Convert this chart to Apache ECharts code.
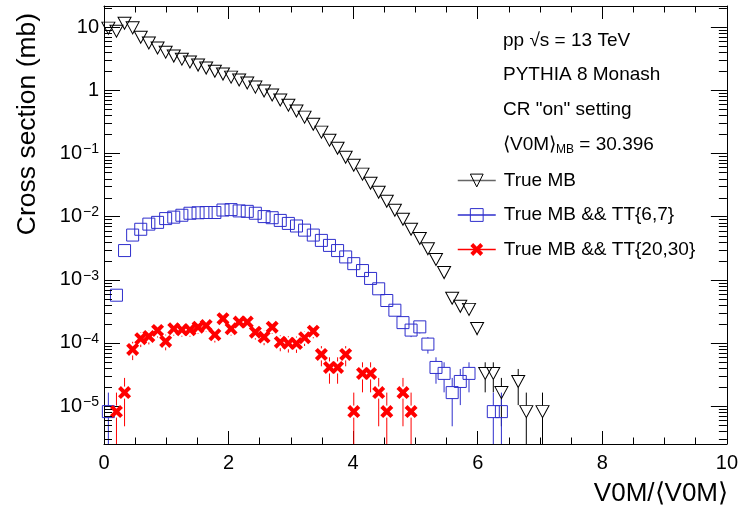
<!DOCTYPE html>
<html>
<head>
<meta charset="utf-8">
<script src="https://cdn.jsdelivr.net/npm/echarts@6/dist/echarts.min.js"></script>
<style>
  html, body { margin: 0; padding: 0; background: #fff; }
  #chart { width: 741px; height: 510px; }
</style>
</head>
<body>
<div id="chart"></div>
<script>
// bin centres in V0M/<V0M>
const binCenters = [0.07, 0.20, 0.33, 0.46, 0.59, 0.72, 0.86, 0.99, 1.12, 1.25,
  1.38, 1.51, 1.64, 1.78, 1.91, 2.04, 2.17, 2.30, 2.43, 2.57,
  2.70, 2.83, 2.96, 3.09, 3.22, 3.36, 3.49, 3.62, 3.75, 3.88,
  4.01, 4.15, 4.28, 4.41, 4.54, 4.67, 4.80, 4.93, 5.07, 5.20,
  5.33, 5.46, 5.59, 5.72, 5.86, 5.99, 6.12, 6.25, 6.38, 6.51,
  6.65, 6.78, 6.91, 7.04];

const trueMB = [9.6, 8.6, 11.5, 9.7, 6.9, 5.6, 4.65, 4.0, 3.47, 3.1,
  2.8, 2.5, 2.24, 2.0, 1.8, 1.61, 1.45, 1.3, 1.12, 0.97,
  0.84, 0.70, 0.58, 0.47, 0.375, 0.29, 0.217, 0.162, 0.121, 0.087,
  0.065, 0.047, 0.0337, 0.0243, 0.0175, 0.0126, 0.0091, 0.0063, 0.0045, 0.0031,
  0.0021, 0.0013, 5.1e-4, 3.8e-4, 3.4e-4, 1.7e-4, 3.3e-5, 3.3e-5, 1.64e-5, null,
  2.46e-5, 8.2e-6, null, 8.2e-6];

const trueMBTT67 = [8.2e-6, 5.7e-4, 2.9e-3, 5.1e-3, 6.3e-3, 7.6e-3, 8.1e-3, 9.3e-3, 9.8e-3, 0.0105,
  0.0113, 0.0115, 0.0116, 0.0116, 0.0127, 0.0129, 0.0123, 0.0121, 0.0113, 0.0100,
  0.0096, 0.0087, 0.0078, 0.0071, 0.0061, 0.0051, 0.0042, 0.0035, 0.0029, 0.0023,
  0.0018, 0.0014, 0.00105, 7.2e-4, 4.7e-4, 3.3e-4, 2.1e-4, 1.6e-4, 1.8e-4, 9.6e-5,
  4.1e-5, 3.3e-5, 1.64e-5, 2.46e-5, 3.3e-5, null, null, 8.2e-6, 8.2e-6, null,
  null, null, null, null];

const trueMBTT2030 = [null, 8.2e-6, 1.64e-5, 7.9e-5, 1.17e-4, 1.27e-4, 1.58e-4, 1.06e-4, 1.68e-4, 1.62e-4,
  1.62e-4, 1.78e-4, 1.89e-4, 1.35e-4, 2.42e-4, 1.68e-4, 2.14e-4, 2.14e-4, 1.48e-4, 1.24e-4,
  1.78e-4, 1.03e-4, 9.9e-5, 9.8e-5, 1.21e-4, 1.54e-4, 6.6e-5, 4.1e-5, 4.1e-5, 6.6e-5,
  8.2e-6, 3.3e-5, 3.3e-5, 1.64e-5, 8.2e-6, null, 1.64e-5, 8.2e-6, null, null,
  null, null, null, null, null, null, null, null, null, null,
  null, null, null, null];

// cross section carried by one generated event (sets the sqrt(N) error bars)
const eventWeight = 8.2e-6;

const seriesNames = ["True MB", "True MB && TT{6,7}", "True MB && TT{20,30}"];
const infoLines = ["pp \u221As = 13 TeV", "PYTHIA 8 Monash", 'CR "on" setting'];

const Y_MIN = 2.52e-6;
const Y_MAX = 21.5;
const FONT = "'Liberation Sans', Arial, Helvetica, sans-serif";
const BLUE = "#2e2ecc";
const RED = "#ff0000";
const CROSS = "path://M0,2.2L2.2,0L5,2.8L7.8,0L10,2.2L7.2,5L10,7.8L7.8,10L5,7.2L2.2,10L0,7.8L2.8,5Z";

function pairs(values) {
  return binCenters
    .map((x, i) => [x, values[i]])
    .filter((p) => p[1] != null);
}

function errorData(values) {
  return pairs(values).map(([x, y]) => {
    const err = Math.sqrt(y * eventWeight);
    return [x, y, y - err, y + err];
  });
}

function seg(x, y1, y2, color) {
  return {
    type: "line",
    shape: { x1: x, y1: y1, x2: x, y2: y2 },
    style: { stroke: color, lineWidth: 1 },
  };
}

function renderErrorBar(color, gap) {
  return function (params, api) {
    const x = api.value(0);
    const lo = api.value(2);
    const mid = api.coord([x, api.value(1)]);
    const top = api.coord([x, Math.min(api.value(3), Y_MAX)]);
    const bottom = api.coord([x, lo > Y_MIN ? lo : Y_MIN]);
    const children = [];
    if (mid[1] - top[1] > gap) children.push(seg(mid[0], top[1], mid[1] - gap, color));
    if (bottom[1] - mid[1] > gap) children.push(seg(mid[0], mid[1] + gap, bottom[1], color));
    return { type: "group", children };
  };
}

// 2..9 x 10^n minor ticks for the log axis
const yMinorTicks = [];
for (let e = -6; e <= 1; e++) {
  for (let k = 2; k <= 9; k++) {
    const v = k * Math.pow(10, e);
    if (v > Y_MIN && v < Y_MAX) yMinorTicks.push([0, v]);
  }
}

function renderMinorTick(params, api) {
  const p = api.coord([0, api.value(1)]);
  const cs = params.coordSys;
  const y = Math.round(p[1]) + 0.5;
  const style = { stroke: "#000", lineWidth: 1 };
  return {
    type: "group",
    children: [
      { type: "line", shape: { x1: cs.x, y1: y, x2: cs.x + 8, y2: y }, style },
      { type: "line", shape: { x1: cs.x + cs.width - 8, y1: y, x2: cs.x + cs.width, y2: y }, style },
    ],
  };
}

function yLabel(v) {
  const e = Math.log10(v);
  const n = Math.round(e);
  if (Math.abs(e - n) > 1e-6) return "";
  if (n === 0) return "1";
  if (n === 1) return "10";
  return "10{sup|" + (n < 0 ? "\u2212" + -n : n) + "}";
}

function xAxisDef(position) {
  return {
    type: "value",
    position: position,
    min: 0,
    max: 10,
    interval: 2,
    axisLine: { show: true, onZero: false, lineStyle: { color: "#000", width: 1 } },
    axisTick: { show: true, inside: true, length: 13, lineStyle: { color: "#000" } },
    minorTick: { show: true, splitNumber: 4, length: 6.5, lineStyle: { color: "#000" } },
    splitLine: { show: false },
    axisLabel: {
      show: position === "bottom",
      fontFamily: FONT,
      fontSize: 20,
      color: "#000",
      margin: 9,
    },
  };
}

function yAxisDef(position) {
  return {
    type: "log",
    logBase: 10,
    position: position,
    min: Y_MIN,
    max: Y_MAX,
    splitNumber: 7,
    axisLine: { show: true, onZero: false, lineStyle: { color: "#000", width: 1 } },
    axisTick: { show: true, inside: true, length: 16, lineStyle: { color: "#000" } },
    splitLine: { show: false },
    axisLabel: {
      show: position === "left",
      showMinLabel: false,
      showMaxLabel: false,
      formatter: yLabel,
      fontFamily: FONT,
      fontSize: 20,
      color: "#000",
      margin: 5,
      rich: {
        sup: { fontFamily: FONT, fontSize: 14, verticalAlign: "top", padding: [0, 0, 8, 1], color: "#000" },
      },
    },
  };
}

const chart = echarts.init(document.getElementById("chart"), null, { renderer: "canvas" });

chart.setOption({
  animation: false,
  backgroundColor: "#fff",
  grid: { left: 104, right: 12, top: 6, bottom: 66, containLabel: false },
  xAxis: [xAxisDef("bottom"), xAxisDef("top")],
  yAxis: [yAxisDef("left"), yAxisDef("right")],
  legend: {
    orient: "vertical",
    left: 457,
    top: 169,
    padding: 0,
    itemWidth: 38,
    itemHeight: 16,
    itemGap: 11.5,
    selectedMode: false,
    data: seriesNames,
    itemStyle: { borderWidth: 1 },
    lineStyle: { opacity: 1, width: 1.5 },
    textStyle: { fontFamily: FONT, fontSize: 19, color: "#000", lineHeight: 23, padding: [0, 0, 0, 3] },
  },
  graphic: [
    ...infoLines.map((t, i) => ({
      type: "text",
      left: 503,
      top: 31 + i * 34.5,
      style: { text: t, fontFamily: FONT, fontSize: 19, fill: "#000" },
    })),
    {
      type: "text",
      left: 503,
      top: 135,
      style: {
        text: "\u27E8V0M\u27E9{sub|MB} = 30.396",
        fontFamily: FONT,
        fontSize: 19,
        fill: "#000",
        rich: { sub: { fontFamily: FONT, fontSize: 12, verticalAlign: "bottom", padding: [10, 0, 0, 0] } },
      },
    },
    {
      type: "text",
      x: 28,
      y: 124,
      rotation: Math.PI / 2,
      style: {
        text: "Cross section (mb)",
        fontFamily: FONT,
        fontSize: 26.5,
        fill: "#000",
        textAlign: "center",
        textVerticalAlign: "middle",
      },
    },
    {
      type: "text",
      x: 728,
      y: 494,
      style: {
        text: "V0M/\u27E8V0M\u27E9",
        fontFamily: FONT,
        fontSize: 26,
        fill: "#000",
        textAlign: "right",
        textVerticalAlign: "middle",
      },
    },
  ],
  series: [
    {
      name: "minorTicks",
      type: "custom",
      silent: true,
      renderItem: renderMinorTick,
      encode: { x: 0, y: 1 },
      data: yMinorTicks,
      z: 5,
    },
    {
      name: "errMB",
      type: "custom",
      silent: true,
      renderItem: renderErrorBar("#000", 6),
      encode: { x: 0, y: 1 },
      data: errorData(trueMB),
    },
    {
      name: "err67",
      type: "custom",
      silent: true,
      renderItem: renderErrorBar(BLUE, 6),
      encode: { x: 0, y: 1 },
      data: errorData(trueMBTT67),
    },
    {
      name: "err2030",
      type: "custom",
      silent: true,
      renderItem: renderErrorBar(RED, 6),
      encode: { x: 0, y: 1 },
      data: errorData(trueMBTT2030),
    },
    {
      name: seriesNames[0],
      type: "line",
      data: pairs(trueMB),
      symbol: "triangle",
      symbolSize: [13, 12],
      symbolRotate: 180,
      showAllSymbol: true,
      lineStyle: { color: "#666", opacity: 0 },
      itemStyle: { color: "rgba(255,255,255,0)", borderColor: "#000", borderWidth: 1 },
    },
    {
      name: seriesNames[1],
      type: "line",
      data: pairs(trueMBTT67),
      symbol: "rect",
      symbolSize: 12,
      showAllSymbol: true,
      lineStyle: { color: BLUE, opacity: 0 },
      itemStyle: { color: "rgba(255,255,255,0)", borderColor: BLUE, borderWidth: 1 },
    },
    {
      name: seriesNames[2],
      type: "line",
      data: pairs(trueMBTT2030),
      symbol: CROSS,
      symbolSize: 13,
      showAllSymbol: true,
      lineStyle: { color: RED, opacity: 0 },
      itemStyle: { color: RED, borderWidth: 0 },
    },
  ],
});
</script>
</body>
</html>
